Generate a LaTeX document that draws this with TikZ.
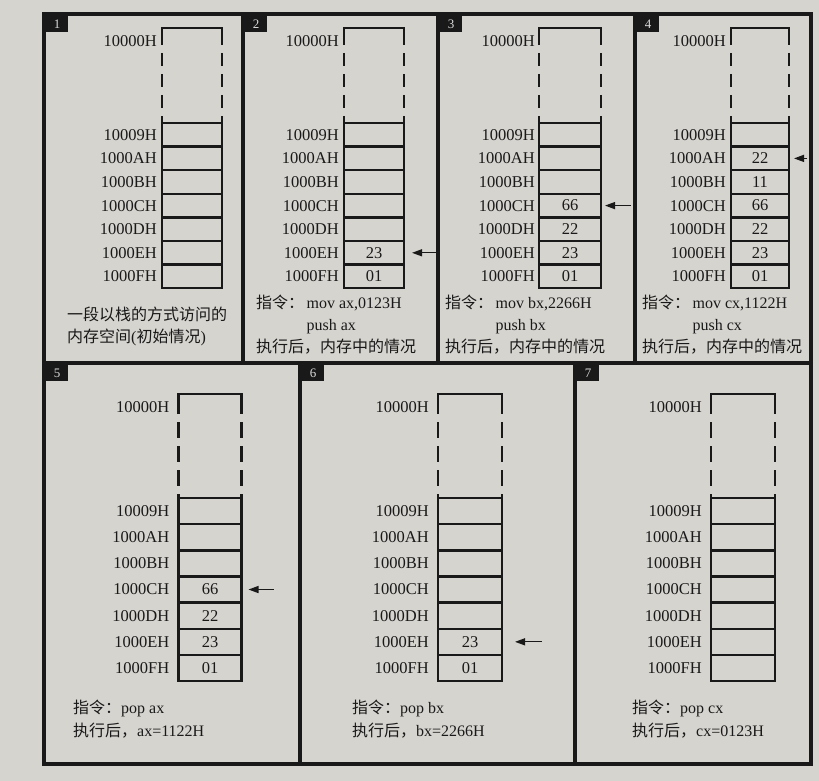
\documentclass[tikz,border=0pt]{standalone}
\usepackage{fontspec}
\setmainfont{Liberation Serif}
\newfontfamily\cjk{Noto Sans CJK SC}
\usetikzlibrary{arrows.meta}
\definecolor{page}{RGB}{214,212,207}
\definecolor{ink}{RGB}{25,25,25}
\newcommand{\addrname}[1]{\ifcase#1\or 10009H\or 1000AH\or 1000BH\or 1000CH\or 1000DH\or 1000EH\or 1000FH\fi}
\tikzset{
  frameline/.style={draw=ink, line width=3.2pt, line join=miter},
  stackline/.style={draw=ink, line width=2.5pt},
  memcell/.style={stackline, rectangle, inner sep=0pt, outer sep=0pt, text=ink, font=\fontsize{16.5}{18}\selectfont},
  addrtext/.style={inner sep=0pt, text=ink, font=\fontsize{16.5}{18}\selectfont, anchor=east},
  captext/.style={inner sep=0pt, text=ink, font=\fontsize{16}{19}\selectfont, anchor=west, text height=12pt, text depth=3pt},
  numbox/.style={fill=ink, text=white!85!black, inner sep=0pt, minimum width=22pt, minimum height=16pt, anchor=north west, font=\fontsize{13}{13}\selectfont},
  ptrarrow/.style={draw=ink, line width=1.3pt, -{Triangle[length=10pt,width=7pt]}},
}
% #1 name #2 cx #3 ytop #4 ycell #5 ch #6 w #7 dash #8 gap #9 values
\newcommand{\memstack}[9]{%
  \foreach \v [count=\i] in {#9} {
    \node[memcell, minimum width=#6pt, minimum height=#5pt] (#1-\i) at ({#2}, {#4+(\i-0.5)*#5}) {\v};
    \node[addrtext] (#1-a\i) at ([xshift=-#8pt]#1-\i.west) {\addrname{\i}};
  }
  \coordinate (#1-tl) at ({#2-#6/2}, {#3});
  \coordinate (#1-tr) at ({#2+#6/2}, {#3});
  \coordinate (#1-sl) at ({#2-#6/2}, {#3+#7+4});
  \coordinate (#1-sr) at ({#2+#6/2}, {#3+#7+4});
  \draw[stackline, line join=miter] (#1-sl) -- (#1-tl) -- (#1-tr) -- (#1-sr);
  \draw[stackline, dash pattern=on #7pt off 8pt, dash phase=#7pt] (#1-sl) -- (#1-1.north west);
  \draw[stackline, dash pattern=on #7pt off 8pt, dash phase=#7pt] (#1-sr) -- (#1-1.north east);
  \node[addrtext] (#1-top) at ([xshift=-#8pt, yshift=-13pt]#1-tl) {10000H};
}
\begin{document}
\begin{tikzpicture}[x=1pt, y=-1pt]
\useasboundingbox (0,0) rectangle (819,781);
\fill[page] (0,0) rectangle (819,781);
% frame
\draw[frameline] (44,14) rectangle (811,764);
\draw[frameline] (44,363) -- (811,363);
\draw[frameline] (243,14) -- (243,363);
\draw[frameline] (438,14) -- (438,363);
\draw[frameline] (635,14) -- (635,363);
\draw[frameline] (300,363) -- (300,764);
\draw[frameline] (575,363) -- (575,764);
% number boxes
\node[numbox] (n1) at (46,16) {1};
\node[numbox] (n2) at (245,16) {2};
\node[numbox] (n3) at (440,16) {3};
\node[numbox] (n4) at (637,16) {4};
\node[numbox] (n5) at (46,365) {5};
\node[numbox] (n6) at (302,365) {6};
\node[numbox] (n7) at (577,365) {7};
% stacks
\memstack{s1}{192}{28}{123}{23.6}{60}{13}{5}{{},{},{},{},{},{},{}}
\memstack{s2}{374}{28}{123}{23.6}{60}{13}{5}{{},{},{},{},{},23,01}
\memstack{s3}{570}{28}{123}{23.6}{62}{13}{4}{{},{},{},66,22,23,01}
\memstack{s4}{760}{28}{123}{23.6}{58}{13}{5}{{},22,11,66,22,23,01}
\memstack{s5}{210}{394}{498}{26.15}{63}{16}{9}{{},{},{},66,22,23,01}
\memstack{s6}{470}{394}{498}{26.15}{64}{16}{9}{{},{},{},{},{},23,01}
\memstack{s7}{743}{394}{498}{26.15}{64}{16}{9}{{},{},{},{},{},{},{}}
% pointers
\coordinate (t2) at ([xshift=32pt]s2-6.east);
\draw[ptrarrow, shorten >=8pt] (t2) -- (s2-6.east);
\coordinate (t3) at ([xshift=30pt]s3-4.east);
\draw[ptrarrow, shorten >=4pt] (t3) -- (s3-4.east);
\coordinate (t4) at ([xshift=18pt]s4-2.east);
\draw[ptrarrow, shorten >=5pt] (t4) -- (s4-2.east);
\coordinate (t5) at ([xshift=32pt]s5-4.east);
\draw[ptrarrow, shorten >=7pt] (t5) -- (s5-4.east);
\coordinate (t6) at ([xshift=40pt]s6-6.east);
\draw[ptrarrow, shorten >=13pt] (t6) -- (s6-6.east);
% captions top row
\node[captext] (c1a) at (67,316) {\cjk 一段以栈的方式访问的};
\node[captext] (c1b) at (67,338) {{\cjk 内存空间}({\cjk 初始情况})};
\node[captext] (k2) at (256,304) {\cjk 指令：};
\node[captext] (m2) at ([xshift=2pt]k2.east) {mov ax,0123H};
\node[captext] (p2) at (m2.west |- 0,326) {push ax};
\node[captext] (e2) at (256,348) {\cjk 执行后，内存中的情况};
\node[captext] (k3) at (445,304) {\cjk 指令：};
\node[captext] (m3) at ([xshift=2pt]k3.east) {mov bx,2266H};
\node[captext] (p3) at (m3.west |- 0,326) {push bx};
\node[captext] (e3) at (445,348) {\cjk 执行后，内存中的情况};
\node[captext] (k4) at (642,304) {\cjk 指令：};
\node[captext] (m4) at ([xshift=2pt]k4.east) {mov cx,1122H};
\node[captext] (p4) at (m4.west |- 0,326) {push cx};
\node[captext] (e4) at (642,348) {\cjk 执行后，内存中的情况};
% captions bottom row
\node[captext] (k5) at (73,709) {{\cjk 指令：}pop ax};
\node[captext] (e5) at (73,732) {{\cjk 执行后，}ax=1122H};
\node[captext] (k6) at (352,709) {{\cjk 指令：}pop bx};
\node[captext] (e6) at (352,732) {{\cjk 执行后，}bx=2266H};
\node[captext] (k7) at (632,709) {{\cjk 指令：}pop cx};
\node[captext] (e7) at (632,732) {{\cjk 执行后，}cx=0123H};
\end{tikzpicture}
\end{document}
